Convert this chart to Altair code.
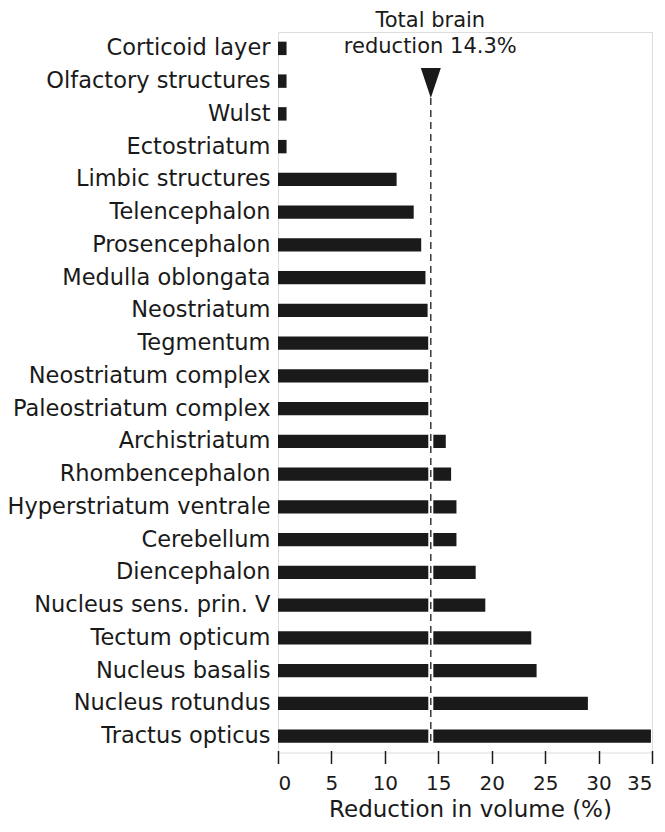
import altair as alt
import pandas as pd

regions = [
    "Corticoid layer", "Olfactory structures", "Wulst", "Ectostriatum",
    "Limbic structures", "Telencephalon", "Prosencephalon", "Medulla oblongata",
    "Neostriatum", "Tegmentum", "Neostriatum complex", "Paleostriatum complex",
    "Archistriatum", "Rhombencephalon", "Hyperstriatum ventrale", "Cerebellum",
    "Diencephalon", "Nucleus sens. prin. V", "Tectum opticum", "Nucleus basalis",
    "Nucleus rotundus", "Tractus opticus",
]
reduction = [
    0.8, 0.8, 0.8, 0.8,
    11.1, 12.7, 13.4, 13.8,
    14.0, 14.1, 14.2, 14.2,
    15.7, 16.2, 16.7, 16.7,
    18.5, 19.4, 23.7, 24.2,
    29.0, 34.9,
]
total_reduction = 14.3
x_ticks = [0, 5, 10, 15, 20, 25, 30, 35]

df = pd.DataFrame({"region": regions, "reduction": reduction})

FONT = "DejaVu Sans"
W = 374
H = 720.5

xscale = alt.Scale(domain=[0, 35], nice=False, zero=True)

bars = alt.Chart(df).mark_bar(color="#1a1a1a").encode(
    x=alt.X("reduction:Q", scale=xscale,
            axis=alt.Axis(values=x_ticks, title="Reduction in volume (%)",
                          domain=False, grid=False, tickSize=13, tickWidth=1.5,
                          tickColor="#1a1a1a", offset=-2,
                          labelFont=FONT, labelFontSize=20, labelColor="#1a1a1a",
                          labelPadding=10,
                          titleFont=FONT, titleFontSize=23, titleFontWeight="normal",
                          titleColor="#1a1a1a", titleX=192, titleY=66,
                          titleBaseline="alphabetic", titleAlign="center")),
    y=alt.Y("region:N", sort=regions,
            scale=alt.Scale(paddingInner=0.59, paddingOuter=0.295),
            axis=alt.Axis(title=None, domain=False, ticks=False, labelFont=FONT,
                          labelFontSize=22.5, labelColor="#1a1a1a", labelPadding=8,
                          labelLimit=400)),
)

gap = alt.Chart().mark_rule(color="white", strokeWidth=5).encode(
    x=alt.datum(total_reduction, scale=xscale),
    y=alt.value(66), y2=alt.value(712),
)

dashed = alt.Chart().mark_rule(color="#1a1a1a", strokeWidth=1.3, strokeDash=[7, 5]).encode(
    x=alt.datum(total_reduction, scale=xscale),
    y=alt.value(66), y2=alt.value(711),
)

arrow = alt.Chart().mark_point(
    shape="M-1,-1.5L1,-1.5L0,1.5Z", size=400, filled=True, color="#1a1a1a", opacity=1
).encode(
    x=alt.datum(total_reduction, scale=xscale),
    y=alt.value(51),
)

label = alt.Chart().mark_text(
    font=FONT, fontSize=21, color="#1a1a1a", align="center", baseline="alphabetic",
    lineHeight=26.6, dx=-0.5,
).encode(
    x=alt.datum(total_reduction, scale=xscale),
    y=alt.value(-5.3),
    text=alt.value(["Total brain", "reduction 14.3%"]),
)

chart = alt.layer(bars, gap, dashed, arrow, label).properties(
    width=W, height=H,
    padding={"left": 270, "top": 24, "right": 5, "bottom": 71.5},
    autosize=alt.AutoSizeParams(type="none"),
).configure_view(stroke=None).configure(background="white")

chart.save("out.html", embed_options={"renderer": "svg", "actions": False})
